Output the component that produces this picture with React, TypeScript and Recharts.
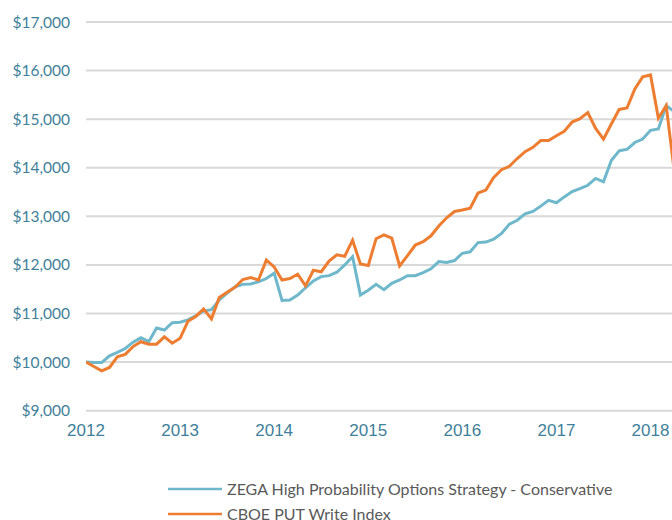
import React from "react";
import { LineChart, Line, XAxis, YAxis, CartesianGrid, Legend } from "recharts";

const yearLabels = ["2012", "2013", "2014", "2015", "2016", "2017", "2018"];
const monthNames = ["Jan", "Feb", "Mar", "Apr", "May", "Jun", "Jul", "Aug", "Sep", "Oct", "Nov", "Dec"];
const seriesNames = [
  "ZEGA High Probability Options Strategy - Conservative",
  "CBOE PUT Write Index",
];
const yTicks = [9000, 10000, 11000, 12000, 13000, 14000, 15000, 16000, 17000];
const xTicks = [0, 12, 24, 36, 48, 60, 72];

const zega = [
  10000, 9990, 9990, 10130, 10200, 10280, 10410, 10500, 10420, 10700, 10660, 10810,
  10820, 10870, 10950, 11050, 11080, 11280, 11420, 11550, 11600, 11610, 11650, 11720,
  11830, 11270, 11280, 11380, 11530, 11670, 11760, 11780, 11850, 12000, 12170, 11380,
  11480, 11600, 11490, 11620, 11690, 11780, 11780, 11840, 11920, 12070, 12050, 12090,
  12240, 12270, 12460, 12470, 12530, 12650, 12840, 12920, 13050, 13100, 13210, 13330,
  13280, 13400, 13510, 13570, 13640, 13780, 13710, 14150, 14350, 14380, 14520, 14590,
  14770, 14800, 15280, 15160,
];

const cboe = [
  10000, 9910, 9820, 9890, 10110, 10160, 10320, 10420, 10370, 10370, 10520, 10390,
  10490, 10840, 10940, 11095, 10890, 11330, 11440, 11540, 11700, 11740, 11690, 12100,
  11960, 11690, 11720, 11810, 11570, 11890, 11860, 12080, 12210, 12180, 12510, 12020,
  11990, 12540, 12620, 12550, 11980, 12190, 12410, 12480, 12600, 12800, 12970, 13100,
  13130, 13170, 13480, 13540, 13800, 13960, 14030, 14190, 14330, 14420, 14560, 14560,
  14660, 14750, 14940, 15010, 15135, 14810, 14590, 14900, 15200, 15230, 15620, 15870,
  15910, 15020, 15280, 13970,
];

const data = zega.map((v, i) => ({
  idx: i,
  month: `${monthNames[i % 12]} ${yearLabels[Math.floor(i / 12)] ?? ""}`,
  zega: v,
  cboe: cboe[i],
}));

const TEAL = "#6fb8cb";
const ORANGE = "#ed7d31";
const AXIS_TEXT = "#3f7f99";

const fmtMoney = (v: number) => "$" + v.toLocaleString("en-US");
const fmtYear = (v: number) => yearLabels[Math.round(v / 12)] ?? "";

const renderLegend = (props: any) => {
  const payload = [...(props.payload || [])].sort(
    (a: any, b: any) => seriesNames.indexOf(a.value) - seriesNames.indexOf(b.value)
  );
  return (
    <div style={{ width: 480, height: 50 }}>
      {payload.map((entry: any, k: number) => (
        <div key={k} style={{ display: "flex", alignItems: "center", height: 25 }}>
          <svg width={54} height={4} style={{ display: "block" }}>
            <line x1={0} y1={2} x2={54} y2={2} stroke={entry.color} strokeWidth={2.5} />
          </svg>
          <span
            style={{
              marginLeft: 5,
              fontFamily: "Lato, sans-serif",
              fontSize: 16,
              color: "#595959",
              lineHeight: "25px",
              whiteSpace: "nowrap",
            }}
          >
            {entry.value}
          </span>
        </div>
      ))}
    </div>
  );
};

export default function App() {
  return (
    <div style={{ position: "absolute", left: 0, top: 0, width: 672, height: 520, background: "#fff", overflow: "hidden" }}>
      <LineChart
        width={672}
        height={520}
        data={data}
        margin={{ top: 22, right: 0, left: 0, bottom: 79.3 }}
      >
        <CartesianGrid horizontal vertical={false} stroke="#d9d9d9" strokeWidth={2} />
        <XAxis
          dataKey="idx"
          type="number"
          domain={[0, 74.74]}
          allowDataOverflow
          ticks={xTicks}
          tickFormatter={fmtYear}
          axisLine={false}
          tickLine={false}
          tickMargin={7}
          height={30}
          interval={0}
          tick={{ fill: AXIS_TEXT, fontSize: 17, fontFamily: "'Liberation Sans', Arial, sans-serif" }}
        />
        <YAxis
          type="number"
          domain={[9000, 17000]}
          ticks={yTicks}
          tickFormatter={fmtMoney}
          axisLine={false}
          tickLine={false}
          tickMargin={10}
          width={86}
          interval={0}
          tick={{ fill: AXIS_TEXT, fontSize: 15.5, fontFamily: "Lato, sans-serif" }}
        />
        <Legend
          layout="vertical"
          verticalAlign="middle"
          align="center"
          content={renderLegend}
          wrapperStyle={{ left: 168, top: 476, width: 480, height: 50, bottom: "auto", right: "auto" }}
        />
        <Line
          type="linear"
          dataKey="zega"
          name={seriesNames[0]}
          stroke={TEAL}
          strokeWidth={3}
          dot={false}
          activeDot={false}
          isAnimationActive={false}
        />
        <Line
          type="linear"
          dataKey="cboe"
          name={seriesNames[1]}
          stroke={ORANGE}
          strokeWidth={3}
          dot={false}
          activeDot={false}
          isAnimationActive={false}
        />
      </LineChart>
    </div>
  );
}
